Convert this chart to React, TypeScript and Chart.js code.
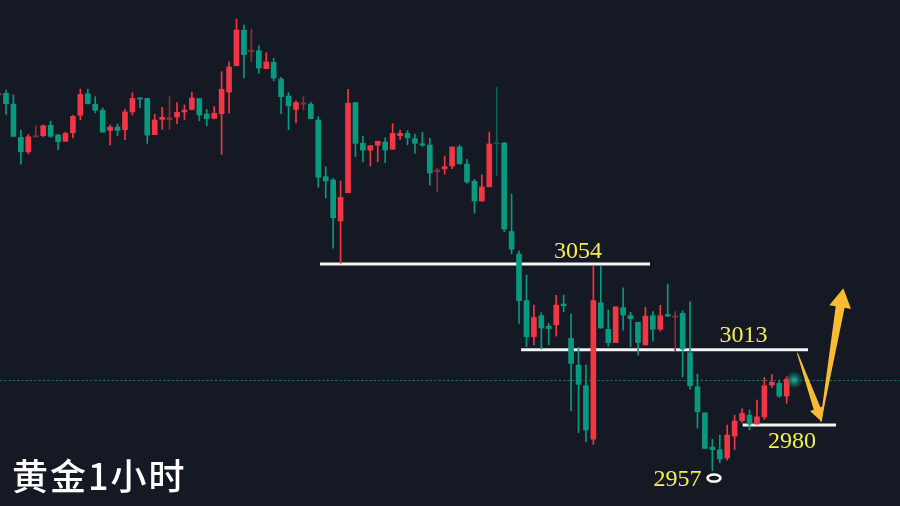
import React, { useEffect, useRef } from 'react';
import { Chart, registerables } from 'chart.js';

Chart.register(...registerables);

// ---- Data (1h gold candles) ----
const opens = [
  3133.7, 3134.5, 3129.4, 3113.7, 3106.9, 3114.0, 3114.5, 3119.4, 3114.8, 3111.9,
  3115.9, 3124.1, 3134.3, 3129.3, 3126.5, 3117.0, 3118.6, 3117.3, 3125.7, 3132.3,
  3132.1, 3115.0, 3122.2, 3122.0, 3123.3, 3125.7, 3126.9, 3132.0, 3124.7, 3122.7,
  3124.9, 3135.1, 3147.5, 3164.2, 3154.1, 3154.6, 3146.1, 3149.1, 3141.2, 3133.2,
  3126.9, 3129.4, 3129.4, 3121.9, 3095.2, 3093.6, 3074.3, 3087.6, 3130.1, 3110.9,
  3107.7, 3110.0, 3111.5, 3108.1, 3114.5, 3115.6, 3113.1, 3110.7, 3110.1, 3097.5,
  3098.9, 3100.2, 3109.2, 3101.1, 3093.0, 3083.7, 3090.4, 3111.2, 3111.0, 3069.3,
  3058.7, 3036.7, 3019.7, 3029.6, 3024.7, 3025.3, 3035.1, 3018.9, 3006.3, 2996.6,
  2971.4, 3035.7, 3023.2, 3016.9, 3033.4, 3029.6, 3026.5, 3015.8, 3029.6, 3023.2,
  3030.2, 3029.0, 3030.7, 3012.1, 2996.1, 2983.8, 2967.6, 2966.4, 2962.5, 2972.8,
  2980.1, 2982.7, 2978.5, 2981.9, 2996.9, 2997.7, 2991.7,
];
const highs = [
  3135.1, 3136.0, 3133.7, 3117.2, 3115.1, 3119.1, 3119.5, 3121.4, 3115.1, 3116.2,
  3124.1, 3136.5, 3136.5, 3132.9, 3127.6, 3119.5, 3120.0, 3126.9, 3134.8, 3132.3,
  3132.1, 3124.6, 3127.9, 3132.9, 3130.1, 3129.0, 3135.1, 3132.1, 3126.9, 3128.2,
  3144.7, 3149.3, 3169.5, 3166.7, 3164.8, 3156.9, 3153.6, 3151.0, 3142.0, 3134.8,
  3131.0, 3132.9, 3130.2, 3123.5, 3099.9, 3094.4, 3093.1, 3136.4, 3130.1, 3114.3,
  3109.8, 3111.9, 3113.5, 3120.2, 3117.2, 3116.9, 3115.3, 3116.1, 3113.3, 3099.1,
  3104.9, 3109.2, 3110.1, 3103.4, 3093.9, 3096.0, 3116.2, 3137.3, 3111.4, 3087.0,
  3060.2, 3048.8, 3034.6, 3031.0, 3026.0, 3039.2, 3039.3, 3030.4, 3014.7, 3006.3,
  3053.0, 3053.0, 3032.3, 3033.8, 3042.8, 3031.2, 3026.5, 3033.5, 3031.5, 3034.5,
  3044.5, 3031.5, 3031.9, 3036.2, 3002.1, 2983.8, 2971.3, 2973.3, 2978.0, 2982.7,
  2985.7, 2985.1, 2989.8, 3000.5, 3001.9, 2999.3, 3000.8,
];
const lows = [
  3133.2, 3124.6, 3114.0, 3101.1, 3105.9, 3113.9, 3114.0, 3113.7, 3107.9, 3111.7,
  3113.5, 3122.0, 3129.4, 3125.3, 3116.1, 3110.2, 3114.5, 3112.6, 3124.3, 3127.7,
  3110.9, 3115.0, 3117.6, 3117.5, 3120.2, 3122.0, 3126.6, 3121.6, 3119.2, 3122.4,
  3105.7, 3125.1, 3147.5, 3141.8, 3149.4, 3143.9, 3146.1, 3140.4, 3124.9, 3117.3,
  3120.5, 3126.6, 3122.5, 3090.2, 3085.2, 3061.4, 3054.3, 3087.6, 3104.6, 3102.1,
  3100.2, 3102.2, 3101.8, 3108.1, 3112.8, 3110.2, 3106.2, 3109.3, 3091.2, 3088.1,
  3096.4, 3098.9, 3101.0, 3092.0, 3077.9, 3083.7, 3090.4, 3095.6, 3069.2, 3058.7,
  3026.0, 3015.0, 3015.8, 3013.9, 3015.9, 3020.0, 3031.5, 2984.8, 2974.4, 2970.1,
  2968.9, 3023.8, 3015.3, 3016.9, 3022.8, 3015.0, 3011.0, 3015.8, 3017.6, 3022.4,
  3029.1, 3012.6, 3000.7, 2994.9, 2976.6, 2967.0, 2956.5, 2960.3, 2961.5, 2966.5,
  2979.4, 2975.7, 2978.5, 2980.7, 2995.8, 2991.1, 2988.3,
];
const closes = [
  3134.6, 3129.6, 3114.2, 3106.9, 3114.0, 3114.4, 3119.2, 3114.2, 3111.7, 3115.6,
  3123.6, 3134.0, 3129.6, 3126.5, 3116.2, 3118.6, 3117.0, 3125.7, 3132.1, 3131.9,
  3114.8, 3121.9, 3123.2, 3123.0, 3125.5, 3126.6, 3132.3, 3124.3, 3122.5, 3125.1,
  3136.4, 3146.9, 3164.3, 3152.7, 3154.9, 3146.4, 3149.3, 3141.7, 3132.9, 3128.6,
  3130.1, 3129.9, 3122.5, 3094.9, 3093.1, 3075.8, 3085.4, 3129.8, 3110.9, 3107.7,
  3109.8, 3111.9, 3107.7, 3115.6, 3115.6, 3113.5, 3110.9, 3110.1, 3096.9, 3098.3,
  3099.9, 3109.2, 3101.3, 3092.7, 3083.7, 3090.3, 3110.6, 3110.6, 3070.5, 3061.0,
  3036.7, 3019.7, 3028.8, 3023.8, 3023.5, 3034.6, 3034.3, 3007.1, 2997.2, 2975.7,
  3036.7, 3023.8, 3016.9, 3033.8, 3029.9, 3028.2, 3016.9, 3029.4, 3023.2, 3029.6,
  3029.4, 3029.4, 3013.9, 2996.6, 2984.3, 2967.0, 2966.4, 2962.0, 2973.3, 2979.9,
  2983.5, 2978.5, 2981.9, 2996.6, 2998.2, 2991.7, 2999.7,
];
// candles that appear dimmed in the reference
const fadedCandles = [0, 5, 23, 34, 41, 59, 67, 91];

const currentPrice = 2999.3;
const currentIndex = 107;

const levelPrices = [3054, 3013.5, 2978];
const levelLabels = ['3054', '3013', '2980'];
const lowLabel = '2957';
const chartTitle = '黄金1小时';

// ---- styles ----
const BG = '#151923';
const UP = '#f23645';
const DOWN = '#089981';
const UP_FADED = '#86303b';
const DOWN_FADED = '#0c5f52';
const YELLOW = '#f5f04a';
const ARROW = '#f9bb33';

const X_MIN = 0.193;
const X_MAX = 121.24;
const Y_MIN = 2939.85;
const Y_MAX = 3178.5;

const levelSpans: [number, number][] = [
  [43.23, 87.62],
  [70.27, 108.87],
  [100.08, 112.64],
];
// label anchors: [index (center), price (baseline)]
const levelLabelAnchors: [number, number][] = [
  [77.93, 3056.8],
  [100.19, 3017.2],
  [106.72, 2967.2],
];
const lowLabelAnchor: [number, number] = [91.32, 2949.3];
const lowMarker: [number, number] = [96.22, 2953.0];

const arrows = [
  { tail: [107.43, 3012.1], tip: [110.71, 2979.6], headLen: 14, headW: 15, shaftW: 7 },
  { tail: [110.57, 2979.6], tip: [113.62, 3042.5], headLen: 19, headW: 22, shaftW: 9 },
];

function isUp(i: number) {
  return closes[i] >= opens[i];
}

function candleColor(i: number) {
  const faded = fadedCandles.includes(i);
  if (isUp(i)) return faded ? UP_FADED : UP;
  return faded ? DOWN_FADED : DOWN;
}

const annotationPlugin = {
  id: 'annotations',
  beforeDraw(chart: any) {
    const { ctx, width, height } = chart;
    ctx.save();
    ctx.fillStyle = BG;
    ctx.fillRect(0, 0, width, height);
    ctx.restore();
  },
  beforeDatasetsDraw(chart: any) {
    const { ctx, chartArea } = chart;
    const x = chart.scales.x;
    const y = chart.scales.y;
    ctx.save();
    // current price dotted line
    const cy = Math.round(y.getPixelForValue(currentPrice)) + 0.5;
    ctx.strokeStyle = 'rgba(16,145,122,0.85)';
    ctx.lineWidth = 1;
    ctx.setLineDash([2, 2.3]);
    ctx.beginPath();
    ctx.moveTo(chartArea.left, cy);
    ctx.lineTo(chartArea.right, cy);
    ctx.stroke();
    ctx.setLineDash([]);

    // level lines
    ctx.strokeStyle = '#f4f4f4';
    ctx.lineWidth = 3;
    levelPrices.forEach((p, k) => {
      const py = y.getPixelForValue(p);
      ctx.beginPath();
      ctx.moveTo(x.getPixelForValue(levelSpans[k][0]), py);
      ctx.lineTo(x.getPixelForValue(levelSpans[k][1]), py);
      ctx.stroke();
    });
    ctx.restore();
  },
  afterDatasetsDraw(chart: any) {
    const { ctx } = chart;
    const x = chart.scales.x;
    const y = chart.scales.y;
    ctx.save();

    // glow dot for current price
    const gx = x.getPixelForValue(currentIndex);
    const gy = y.getPixelForValue(currentPrice);
    const grad = ctx.createRadialGradient(gx, gy, 0, gx, gy, 9);
    grad.addColorStop(0, 'rgba(30,200,165,0.95)');
    grad.addColorStop(0.35, 'rgba(20,160,135,0.7)');
    grad.addColorStop(1, 'rgba(10,120,100,0)');
    ctx.fillStyle = grad;
    ctx.beginPath();
    ctx.arc(gx, gy, 9, 0, Math.PI * 2);
    ctx.fill();

    // level labels
    ctx.font = '24px "Liberation Serif", "DejaVu Serif", serif';
    ctx.fillStyle = YELLOW;
    ctx.textAlign = 'center';
    ctx.textBaseline = 'alphabetic';
    levelLabels.forEach((t, k) => {
      ctx.fillText(t, x.getPixelForValue(levelLabelAnchors[k][0]), y.getPixelForValue(levelLabelAnchors[k][1]));
    });
    ctx.fillText(lowLabel, x.getPixelForValue(lowLabelAnchor[0]), y.getPixelForValue(lowLabelAnchor[1]));

    // low marker ellipse
    ctx.strokeStyle = '#ffffff';
    ctx.lineWidth = 2.5;
    ctx.beginPath();
    ctx.ellipse(x.getPixelForValue(lowMarker[0]), y.getPixelForValue(lowMarker[1]), 6.5, 3.5, 0, 0, Math.PI * 2);
    ctx.stroke();

    // arrows
    ctx.fillStyle = ARROW;
    arrows.forEach((a) => {
      const tx = x.getPixelForValue(a.tail[0]);
      const ty = y.getPixelForValue(a.tail[1]);
      const hx = x.getPixelForValue(a.tip[0]);
      const hy = y.getPixelForValue(a.tip[1]);
      const len = Math.hypot(hx - tx, hy - ty);
      const dx = (hx - tx) / len;
      const dy = (hy - ty) / len;
      const nx = -dy;
      const ny = dx;
      const bx = hx - dx * a.headLen;
      const by = hy - dy * a.headLen;
      ctx.beginPath();
      ctx.moveTo(tx + nx * 0.5, ty + ny * 0.5);
      ctx.lineTo(bx + (nx * a.shaftW) / 2, by + (ny * a.shaftW) / 2);
      ctx.lineTo(bx + (nx * a.headW) / 2, by + (ny * a.headW) / 2);
      ctx.lineTo(hx, hy);
      ctx.lineTo(bx - (nx * a.headW) / 2, by - (ny * a.headW) / 2);
      ctx.lineTo(bx - (nx * a.shaftW) / 2, by - (ny * a.shaftW) / 2);
      ctx.lineTo(tx - nx * 0.5, ty - ny * 0.5);
      ctx.closePath();
      ctx.fill();
    });

    // title
    ctx.font = '500 36px "Noto Sans CJK SC", sans-serif';
    try {
      (ctx as any).letterSpacing = '2px';
    } catch (e) {
      /* ignore */
    }
    ctx.fillStyle = '#ffffff';
    ctx.textAlign = 'left';
    ctx.textBaseline = 'alphabetic';
    ctx.fillText(chartTitle, 12, 490);

    ctx.restore();
  },
};

export default function App() {
  const canvasRef = useRef<HTMLCanvasElement | null>(null);

  useEffect(() => {
    document.body.style.margin = '0';
    document.body.style.background = BG;
    const canvas = canvasRef.current;
    if (!canvas) return;

    const indices = opens.map((_, i) => i);
    const bodyData = indices.map((i) => {
      let lo = Math.min(opens[i], closes[i]);
      let hi = Math.max(opens[i], closes[i]);
      if (hi - lo < 0.6) {
        const m = (hi + lo) / 2;
        lo = m - 0.3;
        hi = m + 0.3;
      }
      return { x: i, y: [lo, hi] };
    });
    const wickData = indices.map((i) => ({ x: i, y: [lows[i], highs[i]] }));
    const colors = indices.map((i) => candleColor(i));

    const chart = new Chart(canvas, {
      type: 'bar',
      data: {
        datasets: [
          {
            label: 'wicks',
            data: wickData as any,
            backgroundColor: colors,
            borderWidth: 0,
            barThickness: 1,
            grouped: false,
            order: 2,
          } as any,
          {
            label: 'bodies',
            data: bodyData as any,
            backgroundColor: colors,
            borderWidth: 0,
            barThickness: 5,
            grouped: false,
            order: 1,
          } as any,
        ],
      },
      options: {
        animation: false,
        responsive: false,
        devicePixelRatio: 1,
        events: [],
        layout: { padding: 0 },
        plugins: {
          legend: { display: false },
          tooltip: { enabled: false },
          title: { display: false },
        },
        scales: {
          x: { type: 'linear', min: X_MIN, max: X_MAX, display: false, offset: false, grid: { display: false } },
          y: { type: 'linear', min: Y_MIN, max: Y_MAX, display: false, grid: { display: false } },
        },
      } as any,
      plugins: [annotationPlugin],
    });

    return () => chart.destroy();
  }, []);

  return (
    <div style={{ position: 'fixed', left: 0, top: 0, width: 900, height: 506, background: BG }}>
      <canvas ref={canvasRef} width={900} height={506} style={{ display: 'block', width: 900, height: 506 }} />
    </div>
  );
}
